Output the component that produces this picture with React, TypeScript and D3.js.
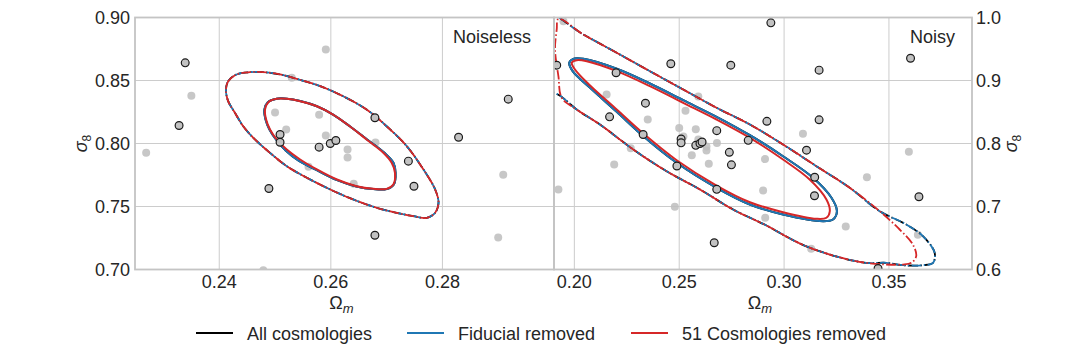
import React from 'react';
import * as d3 from 'd3';

const W = 1080;
const H = 360;
const FONT = "'Liberation Sans', Arial, Helvetica, sans-serif";

type P = [number, number];

// ---- cosmology points (Omega_m, sigma_8) ----
const grayPoints: P[] = [
  [0.1948, 0.9942], [0.2154, 0.8778], [0.2350, 0.8379], [0.2530, 0.8521],
  [0.2591, 0.8746], [0.2500, 0.8246], [0.2579, 0.8228], [0.2520, 0.8111],
  [0.2591, 0.8063], [0.2680, 0.8008], [0.2630, 0.7952], [0.2630, 0.7889],
  [0.2560, 0.7815], [0.2641, 0.7680], [0.2269, 0.7926], [0.2190, 0.7667],
  [0.3090, 0.8154], [0.2909, 0.7752], [0.2900, 0.7254], [0.1924, 0.7270],
  [0.2479, 0.6995], [0.2910, 0.6821], [0.3395, 0.7465], [0.3595, 0.7868],
  [0.3294, 0.6683], [0.3638, 0.6551], [0.3129, 0.6329],
];

const edgePoints: P[] = [
  [0.2937, 0.9915], [0.1916, 0.9243], [0.2460, 0.9265], [0.2746, 0.9243],
  [0.3167, 0.9164], [0.3603, 0.9354], [0.2199, 0.9122], [0.2339, 0.8640],
  [0.2168, 0.8423], [0.3167, 0.8376], [0.2918, 0.8352], [0.2328, 0.8143],
  [0.2679, 0.8204], [0.2829, 0.8050], [0.2509, 0.8071], [0.2509, 0.8010],
  [0.2579, 0.7971], [0.2599, 0.8000], [0.2609, 0.8024], [0.3107, 0.7894],
  [0.2739, 0.7860], [0.2749, 0.7661], [0.2489, 0.7643], [0.3146, 0.7465],
  [0.2679, 0.7272], [0.3145, 0.7170], [0.3643, 0.7154], [0.2667, 0.6424],
  [0.3448, 0.6016],
];

// ---- Noiseless contours ----
const leftInner51: P[] = [
  [0.2482, 0.8270], [0.2488, 0.8328], [0.2503, 0.8355], [0.2521, 0.8355],
  [0.2545, 0.8336], [0.2575, 0.8296], [0.2604, 0.8230], [0.2634, 0.8137],
  [0.2664, 0.8032], [0.2694, 0.7926], [0.2709, 0.7847], [0.2715, 0.7767],
  [0.2712, 0.7675], [0.2700, 0.7640], [0.2676, 0.7640], [0.2646, 0.7661],
  [0.2611, 0.7714], [0.2575, 0.7794], [0.2545, 0.7873], [0.2521, 0.7952],
  [0.2503, 0.8032], [0.2491, 0.8111], [0.2484, 0.8190],
];
const leftInnerFid: P[] = [
  [0.2481, 0.8270], [0.2487, 0.8328], [0.2503, 0.8356], [0.2521, 0.8356],
  [0.2545, 0.8337], [0.2575, 0.8296], [0.2604, 0.8230], [0.2634, 0.8137],
  [0.2665, 0.8032], [0.2696, 0.7926], [0.2712, 0.7849], [0.2716, 0.7767],
  [0.2713, 0.7675], [0.2700, 0.7638], [0.2676, 0.7638], [0.2646, 0.7659],
  [0.2610, 0.7711], [0.2574, 0.7790], [0.2543, 0.7861], [0.2519, 0.7944],
  [0.2502, 0.8030], [0.2490, 0.8111], [0.2483, 0.8190],
];
const leftOuter: P[] = [
  [0.2412, 0.8429], [0.2416, 0.8494], [0.2431, 0.8548], [0.2455, 0.8566],
  [0.2479, 0.8566], [0.2509, 0.8548], [0.2539, 0.8513], [0.2581, 0.8455],
  [0.2622, 0.8375], [0.2664, 0.8270], [0.2700, 0.8137], [0.2736, 0.7979],
  [0.2766, 0.7794], [0.2787, 0.7635], [0.2793, 0.7529], [0.2787, 0.7450],
  [0.2772, 0.7410], [0.2748, 0.7423], [0.2718, 0.7450], [0.2682, 0.7490],
  [0.2640, 0.7556], [0.2599, 0.7635], [0.2557, 0.7728], [0.2521, 0.7820],
  [0.2491, 0.7926], [0.2461, 0.8045], [0.2443, 0.8137], [0.2428, 0.8244],
  [0.2416, 0.8336],
];

// ---- Noisy contours ----
const rightInner51: P[] = [
  [0.1988, 0.9281], [0.2011, 0.9322], [0.2059, 0.9306], [0.2202, 0.9148],
  [0.2360, 0.8910], [0.2519, 0.8646], [0.2678, 0.8381], [0.2837, 0.8090],
  [0.2995, 0.7746], [0.3122, 0.7429], [0.3202, 0.7111], [0.3218, 0.6925],
  [0.3202, 0.6821], [0.3154, 0.6805], [0.2995, 0.6910], [0.2837, 0.7068],
  [0.2678, 0.7333], [0.2488, 0.7735], [0.2329, 0.8159], [0.2202, 0.8540],
  [0.2075, 0.8921], [0.2003, 0.9175],
];
const rightInnerFid: P[] = [
  [0.1976, 0.9281], [0.1995, 0.9344], [0.2043, 0.9344], [0.2202, 0.9186],
  [0.2360, 0.8952], [0.2519, 0.8687], [0.2678, 0.8424], [0.2837, 0.8132],
  [0.2995, 0.7798], [0.3138, 0.7456], [0.3226, 0.7138], [0.3252, 0.6925],
  [0.3233, 0.6794], [0.3186, 0.6767], [0.2995, 0.6873], [0.2837, 0.7032],
  [0.2678, 0.7297], [0.2488, 0.7694], [0.2329, 0.8116], [0.2202, 0.8503],
  [0.2075, 0.8884], [0.1992, 0.9148],
];
const rightOuter51: P[] = [
  [0.1924, 0.9979], [0.2043, 0.9730], [0.2202, 0.9440], [0.2360, 0.9148],
  [0.2519, 0.8857], [0.2678, 0.8567], [0.2837, 0.8302], [0.2995, 0.7984],
  [0.3154, 0.7640], [0.3313, 0.7297], [0.3456, 0.6925], [0.3551, 0.6635],
  [0.3614, 0.6397], [0.3630, 0.6211], [0.3607, 0.6106], [0.3567, 0.6079],
  [0.3392, 0.6106], [0.3233, 0.6222], [0.3075, 0.6413], [0.2916, 0.6698],
  [0.2757, 0.6952], [0.2599, 0.7270], [0.2440, 0.7560], [0.2281, 0.7905],
  [0.2122, 0.8302], [0.2011, 0.8540], [0.1940, 0.8725], [0.1924, 0.9068],
  [0.1908, 0.9492], [0.1916, 0.9810],
];
const rightOuterFid: P[] = [
  [0.1870, 1.0060], [0.2043, 0.9730], [0.2202, 0.9440], [0.2360, 0.9148],
  [0.2519, 0.8857], [0.2678, 0.8567], [0.2837, 0.8302], [0.2995, 0.7984],
  [0.3154, 0.7640], [0.3313, 0.7297], [0.3456, 0.6925], [0.3583, 0.6714],
  [0.3662, 0.6529], [0.3718, 0.6265], [0.3710, 0.6106], [0.3662, 0.6068],
  [0.3567, 0.6068], [0.3488, 0.6106], [0.3392, 0.6106], [0.3233, 0.6222],
  [0.3075, 0.6413], [0.2916, 0.6698], [0.2757, 0.6952], [0.2599, 0.7270],
  [0.2440, 0.7560], [0.2281, 0.7905], [0.2122, 0.8302], [0.2011, 0.8540],
  [0.1940, 0.8740], [0.1870, 0.8900], [0.1850, 0.9500],
];

// ---- axes ----
const leftXDomain: [number, number] = [0.2249, 0.3];
const leftYDomain: [number, number] = [0.7, 0.9];
const rightXDomain: [number, number] = [0.1903, 0.3896];
const rightYDomain: [number, number] = [0.6, 1.0];
const leftXTicks = [0.24, 0.26, 0.28];
const leftYTicks = [0.7, 0.75, 0.8, 0.85, 0.9];
const rightXTicks = [0.2, 0.25, 0.3, 0.35];
const rightYTicks = [0.6, 0.7, 0.8, 0.9, 1.0];

const seriesNames = ['All cosmologies', 'Fiducial removed', '51 Cosmologies removed'];
const seriesColors = ['#000000', '#1f77b4', '#d62728'];

const TOP = 17.5;
const BOTTOM = 269.5;
const GRID = '#cccccc';
const FRAME = '#c4c4c4';
const DASHDOT = '9.6,2.4,1.5,2.4';

type Contour = { pts: P[]; color: string; dashed: boolean; offset: number };

interface PanelProps {
  id: string;
  x0: number;
  x1: number;
  xDomain: [number, number];
  yDomain: [number, number];
  xTicks: number[];
  yTicks: number[];
  xFmt: (v: number) => string;
  yFmt: (v: number) => string;
  ySide: 'left' | 'right';
  title: string;
  titleX: number;
  contours: Contour[];
}

function Panel(p: PanelProps) {
  const xs = d3.scaleLinear().domain(p.xDomain).range([p.x0, p.x1]);
  const ys = d3.scaleLinear().domain(p.yDomain).range([BOTTOM, TOP]);
  const line = d3
    .line<P>()
    .x((d) => xs(d[0]))
    .y((d) => ys(d[1]))
    .curve(d3.curveCatmullRomClosed.alpha(0.5));
  const cx = (p.x0 + p.x1) / 2;
  const cy = (TOP + BOTTOM) / 2;
  const labelX = p.ySide === 'left' ? p.x0 - 48 : p.x1 + 45;
  return (
    <g>
      <defs>
        <clipPath id={p.id}>
          <rect x={p.x0} y={TOP} width={p.x1 - p.x0} height={BOTTOM - TOP} />
        </clipPath>
      </defs>
      {p.xTicks.map((t) => (
        <line key={'gx' + t} x1={xs(t)} x2={xs(t)} y1={TOP} y2={BOTTOM} stroke={GRID} strokeWidth={1} />
      ))}
      {p.yTicks.map((t) => (
        <line key={'gy' + t} x1={p.x0} x2={p.x1} y1={ys(t)} y2={ys(t)} stroke={GRID} strokeWidth={1} />
      ))}
      <g clipPath={`url(#${p.id})`}>
        {grayPoints.map((d, i) => (
          <circle key={'g' + i} cx={xs(d[0])} cy={ys(d[1])} r={4} fill="#bdbdbd" fillOpacity={0.85} />
        ))}
        {p.contours.map((c, i) => (
          <path
            key={'c' + i}
            d={line(c.pts) || ''}
            fill="none"
            stroke={c.color}
            strokeWidth={c.dashed ? 1.8 : 2}
            strokeDasharray={c.dashed ? DASHDOT : undefined}
            strokeDashoffset={c.offset}
          />
        ))}
        {edgePoints.map((d, i) => (
          <circle key={'e' + i} cx={xs(d[0])} cy={ys(d[1])} r={3.9} fill="#c2c2c2" stroke="#1a1a1a" strokeWidth={1.2} />
        ))}
      </g>
      <rect x={p.x0} y={TOP} width={p.x1 - p.x0} height={BOTTOM - TOP} fill="none" stroke={FRAME} strokeWidth={1.8} />
      {p.xTicks.map((t) => (
        <text key={'tx' + t} x={xs(t)} y={288} textAnchor="middle" fontSize={18} fill="#262626" fontFamily={FONT}>
          {p.xFmt(t)}
        </text>
      ))}
      {p.yTicks.map((t) => (
        <text
          key={'ty' + t}
          x={p.ySide === 'left' ? p.x0 - 5 : p.x1 + 4}
          y={ys(t)}
          dy="0.35em"
          textAnchor={p.ySide === 'left' ? 'end' : 'start'}
          fontSize={18}
          fill="#262626"
          fontFamily={FONT}
        >
          {p.yFmt(t)}
        </text>
      ))}
      <text x={cx - 3} y={309} textAnchor="middle" fontSize={18} fill="#262626" fontFamily={FONT}>
        Ω<tspan fontStyle="italic" fontSize={13} dy={4}>m</tspan>
      </text>
      <text
        transform={`translate(${labelX},${cy}) rotate(-90)`}
        textAnchor="middle"
        fontSize={18}
        fill="#262626"
        fontFamily={FONT}
      >
        <tspan fontStyle="italic">σ</tspan>
        <tspan fontSize={12} dy={4}>8</tspan>
      </text>
      <text x={p.titleX} y={43} fontSize={18} fill="#262626" fontFamily={FONT}>
        {p.title}
      </text>
    </g>
  );
}

export default function App() {
  const [cAll, cFid, c51] = seriesColors;
  const leftContours: Contour[] = [
    { pts: leftInnerFid, color: cAll, dashed: false, offset: 0 },
    { pts: leftOuter, color: cAll, dashed: true, offset: 3 },
    { pts: leftInnerFid, color: cFid, dashed: false, offset: 0 },
    { pts: leftOuter, color: cFid, dashed: true, offset: 6.5 },
    { pts: leftInner51, color: c51, dashed: false, offset: 0 },
    { pts: leftOuter, color: c51, dashed: true, offset: 0 },
  ];
  const rightContours: Contour[] = [
    { pts: rightInnerFid, color: cAll, dashed: false, offset: 0 },
    { pts: rightOuterFid, color: cAll, dashed: true, offset: 3 },
    { pts: rightInnerFid, color: cFid, dashed: false, offset: 0 },
    { pts: rightOuterFid, color: cFid, dashed: true, offset: 6.5 },
    { pts: rightInner51, color: c51, dashed: false, offset: 0 },
    { pts: rightOuter51, color: c51, dashed: true, offset: 0 },
  ];
  const legendX = [196, 407, 631];
  return (
    <svg
      width={W}
      height={H}
      viewBox={`0 0 ${W} ${H}`}
      style={{ position: 'absolute', left: 0, top: 0, background: '#ffffff' }}
    >
      <rect x={0} y={0} width={W} height={H} fill="#ffffff" />
      <Panel
        id="clipL"
        x0={135}
        x1={554}
        xDomain={leftXDomain}
        yDomain={leftYDomain}
        xTicks={leftXTicks}
        yTicks={leftYTicks}
        xFmt={d3.format('.2f')}
        yFmt={d3.format('.2f')}
        ySide="left"
        title="Noiseless"
        titleX={453}
        contours={leftContours}
      />
      <Panel
        id="clipR"
        x0={554}
        x1={972}
        xDomain={rightXDomain}
        yDomain={rightYDomain}
        xTicks={rightXTicks}
        yTicks={rightYTicks}
        xFmt={d3.format('.2f')}
        yFmt={d3.format('.1f')}
        ySide="right"
        title="Noisy"
        titleX={910}
        contours={rightContours}
      />
      {seriesNames.map((name, i) => (
        <g key={name}>
          <line x1={legendX[i]} x2={legendX[i] + 37} y1={333} y2={333} stroke={seriesColors[i]} strokeWidth={2} />
          <text x={legendX[i] + 51} y={339.5} fontSize={18} fill="#262626" fontFamily={FONT}>
            {name}
          </text>
        </g>
      ))}
    </svg>
  );
}
